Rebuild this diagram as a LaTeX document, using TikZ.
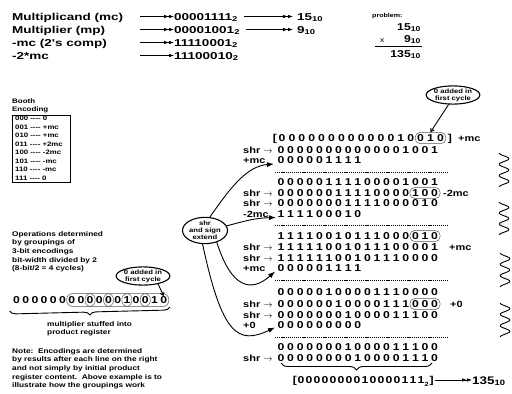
\documentclass[tikz,border=0pt]{standalone}
\usepackage{fontspec}
\setmainfont[FakeStretch=1.22]{Liberation Sans}
\newfontfamily\widefont[FakeStretch=1.35]{Liberation Sans}
\usetikzlibrary{arrows.meta,shapes.geometric,fit,decorations.pathreplacing,calc}
\tikzset{
 bit/.style={font=\fontsize{10}{10}\selectfont\bfseries, inner sep=0.3pt, text height=7pt, text depth=0pt},
 lbl/.style={font=\fontsize{9}{9}\selectfont\bfseries, inner sep=0pt, anchor=base west},
 toptxt/.style={font=\widefont\fontsize{10}{11}\selectfont\bfseries, inner sep=0pt, anchor=base west},
 pnum/.style={font=\fontsize{10}{11}\selectfont\bfseries, inner sep=0pt, anchor=base east},
 small/.style={font=\fontsize{6.8}{8.7}\selectfont\bfseries, inner sep=0pt, anchor=north west, align=left},
 tiny/.style={font=\fontsize{5.8}{8.4}\selectfont\bfseries, inner sep=0pt, anchor=base west},
 grp/.style={draw=black!65, rounded corners=5pt, inner sep=1.6pt, line width=0.5pt},
 lgrp/.style={draw=black!65, rounded corners=6pt, inner xsep=1.2pt, inner ysep=2.5pt, line width=0.5pt},
 dline/.style={dash pattern=on 1.2pt off 0.9pt, line width=0.5pt},
 cur/.style={line width=0.9pt, -{Latex[length=7pt,width=5pt]}},
 callout/.style={draw, ellipse, line width=1.1pt, inner sep=0pt, font=\fontsize{6.3}{7}\selectfont\bfseries, align=center},
 dbl/.style={line width=0.8pt, -{Latex[length=5pt,width=3.6pt]Latex[length=5pt,width=3.6pt]}},
 sgl/.style={line width=0.8pt, -{Latex[length=5pt,width=3.6pt]}},
 pointer/.style={line width=0.9pt, -{Straight Barb[length=3pt,width=4pt]}},
 brc/.style={decorate, line width=0.9pt},
}
\newcommand\bitrow[5]{\foreach \d [count=\i] in {#5} {\node[bit] (#1-\i) at ({#2+(\i-1)*#3},#4) {\d};}}
\newcommand\squig[3]{\draw[line width=0.9pt, domain=0:1, samples=60, smooth] plot ({#1-4.8*cos(\x*1080)}, {#2+#3*\x});}
\begin{document}
\begin{tikzpicture}[x=1pt,y=-1pt]
\useasboundingbox (0,0) rectangle (512,394);
\fill[white] (0,0) rectangle (512,394);

% ---------- top block ----------
\node[toptxt] (t1) at (12,20) {Multiplicand (mc)};
\node[toptxt] (t2) at (12,33) {Multiplier (mp)};
\node[toptxt] (t3) at (12,46) {-mc (2's comp)};
\node[toptxt] (t4) at (12,59) {-2*mc};
\node[toptxt] (v1) at (174,20) {00001111\textsubscript{2}};
\node[toptxt] (v2) at (174,33) {00001001\textsubscript{2}};
\node[toptxt] (v3) at (174,46) {11110001\textsubscript{2}};
\node[toptxt] (v4) at (174,59) {11100010\textsubscript{2}};
\node[toptxt] (d1) at (297,20) {15\textsubscript{10}};
\node[toptxt] (d2) at (297,33) {9\textsubscript{10}};
\coordinate (a1) at (140,16.5);
\coordinate (a2) at (140,29.5);
\coordinate (a3) at (140,42.5);
\coordinate (a4) at (140,55.5);
\draw[dbl] (a1) -- (a1 -| v1.west);
\draw[dbl] (a2) -- (a2 -| v2.west);
\draw[dbl] (a3) -- (a3 -| v3.west);
\draw[sgl] (a4) -- (a4 -| v4.west);
\draw[dbl, shorten <=6pt, shorten >=4pt] (a1 -| v1.east) -- (a1 -| d1.west);
\draw[dbl, shorten <=6pt, shorten >=4pt] (a2 -| v2.east) -- (a2 -| d2.west);

% ---------- problem ----------
\node[tiny] (pb) at (372,17.5) {problem:};
\node[pnum] (p1) at (421,30) {15\textsubscript{10}};
\node[font=\fontsize{7}{8}\selectfont, inner sep=0pt, anchor=base west] (px) at (380,42) {x};
\node[pnum] (p2) at (421,42) {9\textsubscript{10}};
\draw[line width=0.8pt] (375,46.5) -- (422,46.5);
\node[pnum] (p3) at (421,57) {135\textsubscript{10}};

% ---------- Booth encoding ----------
\node[tiny, font=\fontsize{6.5}{7}\selectfont\bfseries] (be1) at (12,103) {Booth};
\node[tiny, font=\fontsize{6.5}{7}\selectfont\bfseries] (be2) at (12,111) {Encoding};
\node[draw, line width=1pt, minimum width=58pt, minimum height=67pt, anchor=north west, inner sep=0pt] (bbox) at (12,114.5) {};
\foreach \t [count=\i] in {000 -{}-{}-{}- 0, 001 -{}-{}-{}- +mc, 010 -{}-{}-{}- +mc, 011 -{}-{}-{}- +2mc, 100 -{}-{}-{}- -2mc, 101 -{}-{}-{}- -mc, 110 -{}-{}-{}- -mc, 111 -{}-{}-{}- 0}
  {\node[tiny, font=\fontsize{6.4}{7}\selectfont\bfseries] (bt\i) at (15,{120.5+(\i-1)*8.5}) {\t};}

% ---------- left text ----------
\node[small] (ops) at (12,231) {Operations determined\\by groupings of\\3-bit encodings\\bit-width divided by 2\\(8-bit/2 = 4 cycles)};
\node[callout, minimum width=53pt, minimum height=16pt] (lc) at (143,276) {0 added in\\first cycle};
\bitrow{L}{16.5}{9.2}{300}{0,0,0,0,0,0,0,0,0,0,0,0,1,0,0,1,0}
\foreach \a/\b [count=\k] in {7/9,9/11,11/13,13/15,15/17}
  {\node[lgrp, fit=(L-\a)(L-\b)] (lg\k) {};}
\draw[pointer] (lc.-28) -- (L-17.north);
\draw[brc, decoration={brace, mirror, amplitude=6pt}] (L-1.south west)++(-3,7) coordinate (lb1) -- (170,307) coordinate (lb2);
\node[small] (mst) at (47,321) {multiplier stuffed into\\product register};
\node[small] (note) at (12,348) {Note:\ \ Encodings are determined\\by results after each line on the right\\and not simply by initial product\\register content.\ \ Above example is to\\illustrate how the groupings work};

% ---------- right computation ----------
\node[callout, minimum width=50pt, minimum height=16pt] (rc) at (453,95) {0 added in\\first cycle};
\node[bit] (ob1) at (275,138) {[};
\bitrow{R1}{282}{9.9}{138}{0,0,0,0,0,0,0,0,0,0,0,0,1,0,0,1,0}
\node[bit] (cb1) at (450,138) {]};
\node[grp, fit=(R1-15)(R1-17)] (g1) {};
\node[lbl] (o1) at (458,141.5) {+mc};
\draw[pointer] (rc.-115) -- (g1.north);

\node[lbl] (s2) at (243,153.5) {shr $\rightarrow$};
\bitrow{R2}{281}{9.6}{150}{0,0,0,0,0,0,0,0,0,0,0,0,0,1,0,0,1}
\node[lbl] (s3) at (243,163.5) {+mc};
\bitrow{R3}{281}{9.6}{160}{0,0,0,0,0,1,1,1,1}
\coordinate (dl1) at (275,172);
\draw[dline] (dl1) -- ++(173,0);
\bitrow{R4}{281}{9.6}{182}{0,0,0,0,0,1,1,1,1,0,0,0,0,1,0,0,1}
\node[lbl] (s5) at (243,196.5) {shr $\rightarrow$};
\bitrow{R5}{281}{9.6}{193}{0,0,0,0,0,0,1,1,1,1,0,0,0,0,1,0,0}
\node[grp, fit=(R5-15)(R5-17)] (g5) {};
\node[lbl] (o5) at (443,196.5) {-2mc};
\node[lbl] (s6) at (243,206.5) {shr $\rightarrow$};
\bitrow{R6}{281}{9.6}{203}{0,0,0,0,0,0,0,1,1,1,1,0,0,0,0,1,0}
\node[lbl] (s7) at (243,217.5) {-2mc};
\bitrow{R7}{281}{9.6}{214}{1,1,1,1,0,0,0,1,0}
\coordinate (dl2) at (275,225.5);
\draw[dline] (dl2) -- ++(173,0);
\bitrow{R8}{281}{9.6}{236}{1,1,1,1,0,0,1,0,1,1,1,0,0,0,0,1,0}
\node[grp, fit=(R8-15)(R8-17)] (g8) {};
\node[lbl] (s9) at (243,250.5) {shr $\rightarrow$};
\bitrow{R9}{281}{9.6}{247}{1,1,1,1,1,0,0,1,0,1,1,1,0,0,0,0,1}
\node[lbl] (o9) at (449,250.5) {+mc};
\node[lbl] (s10) at (243,261.5) {shr $\rightarrow$};
\bitrow{R10}{281}{9.6}{258}{1,1,1,1,1,1,0,0,1,0,1,1,1,0,0,0,0}
\node[lbl] (s11) at (243,271.5) {+mc};
\bitrow{R11}{281}{9.6}{268}{0,0,0,0,0,1,1,1,1}
\coordinate (dl3) at (275,280.5);
\draw[dline] (dl3) -- ++(173,0);
\bitrow{R12}{281}{9.6}{292}{0,0,0,0,0,1,0,0,0,0,1,1,1,0,0,0,0}
\node[lbl] (s13) at (243,307.5) {shr $\rightarrow$};
\bitrow{R13}{281}{9.6}{304}{0,0,0,0,0,0,1,0,0,0,0,1,1,1,0,0,0}
\node[grp, fit=(R13-15)(R13-17)] (g13) {};
\node[lbl] (o13) at (450,307.5) {+0};
\node[lbl] (s14) at (243,318.5) {shr $\rightarrow$};
\bitrow{R14}{281}{9.6}{315}{0,0,0,0,0,0,0,1,0,0,0,0,1,1,1,0,0}
\node[lbl] (s15) at (243,328.5) {+0};
\bitrow{R15}{281}{9.6}{325}{0,0,0,0,0,0,0,0,0}
\coordinate (dl4) at (275,337);
\draw[dline] (dl4) -- ++(173,0);
\bitrow{R16}{281}{9.6}{347}{0,0,0,0,0,0,0,1,0,0,0,0,1,1,1,0,0}
\node[lbl] (s17) at (243,361.5) {shr $\rightarrow$};
\bitrow{R17}{281}{9.6}{358}{0,0,0,0,0,0,0,0,1,0,0,0,0,1,1,1,0}
\draw[brc, decoration={brace, mirror, amplitude=7pt}] (281,363) coordinate (rb1) -- (432,363) coordinate (rb2);

\node[bit] (ob2) at (295,380) {[};
\bitrow{F}{301}{8.0}{380}{0,0,0,0,0,0,0,0,1,0,0,0,0,1,1,1}
\node[bit, anchor=west, inner sep=0pt] (fs) at (424.5,383) {\fontsize{6}{6}\selectfont 2};
\node[bit, anchor=west, inner sep=0pt] (cb2) at (429.5,380) {]};
\node[toptxt, font=\fontsize{11}{11}\selectfont\bfseries] (res) at (472,384) {135\textsubscript{10}};
\draw[dbl] ([xshift=1pt]cb2.east) -- (res.west |- cb2.east);

% ---------- shr and sign extend ----------
\node[callout, minimum width=45pt, minimum height=25pt, font=\fontsize{6.3}{7}\selectfont\bfseries] (se) at (205,230.5) {shr\\and sign\\extend};
\coordinate (c1) at (274,164);
\coordinate (c2) at (276,217.5);
\coordinate (c3) at (275,271.5);
\coordinate (c4) at (275,327.5);
\draw[cur] (se.70) .. controls (232,185) and (248,166) .. (c1);
\draw[cur] (se.12) .. controls (245,221) and (255,218) .. (c2);
\draw[cur] (se.-45) .. controls (232,290) and (252,292) .. (c3);
\draw[cur] (se.-100) .. controls (222,335) and (238,345) .. (c4);

% ---------- squiggles ----------
\squig{504}{153}{34}
\squig{504}{202}{33}
\squig{505}{253}{34}
\squig{505}{303}{34}
\end{tikzpicture}
\end{document}
